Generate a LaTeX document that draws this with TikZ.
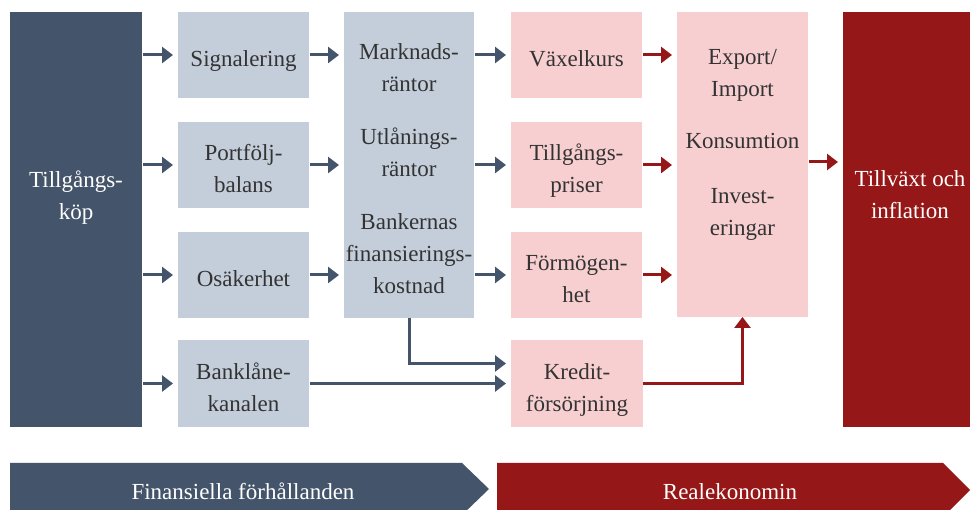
\documentclass[tikz,border=0pt]{standalone}
\usepackage{fontspec}
\setmainfont{Liberation Serif}
\usetikzlibrary{arrows.meta}
\definecolor{slate}{HTML}{44546A}
\definecolor{lightslate}{HTML}{C4CEDA}
\definecolor{pinkbox}{HTML}{F8CFD0}
\definecolor{darkred}{HTML}{951717}
\definecolor{textdark}{HTML}{333333}
\newcommand\tstr{\rule[-6pt]{0pt}{36pt}}
\newcommand\bstr{\rule[-6pt]{0pt}{6pt}}
\tikzset{
  struts/.style={execute at begin node={\tstr}, execute at end node={\bstr}},
  box/.style={rectangle, inner sep=0pt, outer sep=0pt, anchor=north west, align=center,
    font=\fontsize{23}{32}\selectfont, struts},
  lt/.style={box, fill=lightslate, text=textdark},
  pk/.style={box, fill=pinkbox, text=textdark},
  dk/.style={box, fill=slate, text=white},
  rd/.style={box, fill=darkred, text=white},
  txt/.style={inner sep=0pt, align=center, font=\fontsize{23}{32}\selectfont, struts},
  darr/.style={draw=slate, line width=3pt, -{Triangle[length=11pt,width=16pt]}, shorten <=1pt, shorten >=5pt},
  rarr/.style={draw=darkred, line width=3pt, -{Triangle[length=11pt,width=16pt]}, shorten <=1pt, shorten >=5pt},
}
\begin{document}
\begin{tikzpicture}[x=1pt,y=-1pt]
\useasboundingbox (0,0) rectangle (970,510);
\clip (0,0) rectangle (970,510);
% left box
\node[dk, minimum width=132pt, minimum height=415pt] (tk) at (10,12) {};
\node[txt, text=white] (tkt) at (76,198) {Tillgångs-\\köp};
% column 2
\node[lt, minimum width=131pt, minimum height=86pt] (sig) at (178,12) {Signalering};
\node[lt, minimum width=131pt, minimum height=86pt] (pb) at (178,122) {\tstr Portfölj-\\balans\bstr};
\node[lt, minimum width=131pt, minimum height=86pt] (os) at (178,232) {Osäkerhet};
\node[lt, minimum width=131pt, minimum height=87pt] (bl) at (178,340) {\tstr Banklåne-\\kanalen\bstr};
% column 3
\node[lt, minimum width=130pt, minimum height=306pt] (mk) at (344,12) {\tstr Marknads-\\räntor\\[21pt]Utlånings-\\räntor\\[21pt]Bankernas\\finansierings-\\kostnad\bstr};
% column 4
\node[pk, minimum width=131pt, minimum height=86pt] (vk) at (511,12) {Växelkurs};
\node[pk, minimum width=131pt, minimum height=86pt] (tp) at (511,122) {\tstr Tillgångs-\\priser\bstr};
\node[pk, minimum width=131pt, minimum height=86pt] (fm) at (511,232) {\tstr Förmögen-\\het\bstr};
\node[pk, minimum width=132pt, minimum height=87pt] (kr) at (511,340) {\tstr Kredit-\\försörjning\bstr};
% column 5
\node[pk, minimum width=131pt, minimum height=305pt] (ex) at (677,12) {};
\node[txt, text=textdark] (ext) at (742.5,145) {Export/\\Import\\[20pt]Konsumtion\\[23pt]Invest-\\eringar};
% right box
\node[rd, minimum width=130pt, minimum height=415pt] (tv) at (843,12) {};
\node[txt, text=white] (tvt) at (910,198) {Tillväxt och\\inflation};
% arrows left -> col2
\draw[darr] (tk.east |- sig.west) -- (sig.west);
\draw[darr] (tk.east |- pb.west) -- (pb.west);
\draw[darr] (tk.east |- os.west) -- (os.west);
\draw[darr] (tk.east |- bl.west) -- (bl.west);
% col2 -> col3
\draw[darr] (sig.east) -- (sig.east -| mk.west);
\draw[darr] (pb.east) -- (pb.east -| mk.west);
\draw[darr] (os.east) -- (os.east -| mk.west);
% col3 -> col4
\draw[darr] (mk.east |- vk.west) -- (vk.west);
\draw[darr] (mk.east |- tp.west) -- (tp.west);
\draw[darr] (mk.east |- fm.west) -- (fm.west);
% bank lending
\draw[darr] (bl.east) -- (kr.west);
\draw[darr, shorten <=0pt] (mk.south) |- ([yshift=20pt]kr.west);
% col4 -> col5
\draw[rarr] (vk.east) -- (vk.east -| ex.west);
\draw[rarr] (tp.east) -- (tp.east -| ex.west);
\draw[rarr] (fm.east) -- (fm.east -| ex.west);
\draw[rarr, shorten <=0pt, shorten >=0pt] (kr.east) -| (ex.south);
% col5 -> right
\draw[rarr] ([yshift=3pt]ex.east |- tp.west) -- ([yshift=3pt]tp.west -| tv.west);
% banners
\fill[slate] (10,463) -- (462,463) -- (489,489) -- (462,515) -- (10,515) -- cycle;
\fill[darkred] (497,463) -- (943,463) -- (970,490) -- (943,517) -- (497,517) -- cycle;
\node[txt, text=white] (fin) at (243,488) {Finansiella förhållanden};
\node[txt, text=white] (real) at (730,488) {Realekonomin};
\end{tikzpicture}
\end{document}
